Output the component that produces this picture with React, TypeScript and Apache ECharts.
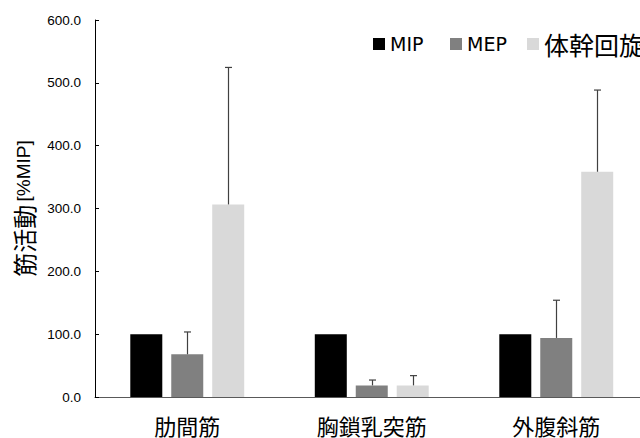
import React, { useEffect, useRef } from "react";
import * as echarts from "echarts";

// Muscles measured
const categories = ["肋間筋", "胸鎖乳突筋", "外腹斜筋"];

// Mean muscle activity [%MIP]
const mipValues = [100, 100, 100];
const mepValues = [68, 18.5, 94];
const rotValues = [306.5, 18.5, 358.5];

// Standard deviations (upper whiskers)
const mepErrors = [35.5, 8.5, 60];
const rotErrors = [218, 15.5, 130];

// Y axis ticks
const yMin = 0;
const yMax = 600;
const yStep = 100;

const seriesNames = ["MIP", "MEP", "体幹回旋"];
const seriesColors = ["#000000", "#808080", "#d9d9d9"];

const BAR_WIDTH = 32;
const BAR_GAP = 0.28;

const LATIN = "'Liberation Sans', 'Noto Sans CJK JP', sans-serif";
const CJK = "'Noto Sans CJK JP', sans-serif";

function errorSeries(name: string, values: number[], errors: number[], slot: number) {
  const offset = slot * BAR_WIDTH * (1 + BAR_GAP);
  return {
    type: "custom",
    name: name + "-sd",
    z: 5,
    data: values.map((v, i) => [i, v, errors[i]]),
    renderItem: (_params: any, api: any) => {
      const idx = api.value(0);
      const v = api.value(1);
      const e = api.value(2);
      const base = api.coord([idx, v]);
      const top = api.coord([idx, v + e]);
      const x = Math.round(base[0] + offset) + 0.5;
      const style = { stroke: "#404040", lineWidth: 1.2 };
      return {
        type: "group",
        children: [
          { type: "line", shape: { x1: x, y1: base[1], x2: x, y2: top[1] }, style },
          { type: "line", shape: { x1: x - 3.5, y1: top[1], x2: x + 3.5, y2: top[1] }, style },
        ],
      };
    },
  };
}

function legendFor(name: string, left: number, top: number, rich: boolean) {
  return {
    data: [name],
    left,
    top,
    padding: 0,
    icon: "rect",
    itemWidth: 12,
    itemHeight: 12,
    itemGap: 0,
    formatter: rich ? (n: string) => `{c|${n}}` : undefined,
    textStyle: rich
      ? { rich: { c: { fontFamily: CJK, fontSize: 25, color: "#000" } } }
      : { fontFamily: "'DejaVu Sans', sans-serif", fontSize: 19, color: "#000" },
  };
}

export default function App() {
  const ref = useRef<HTMLDivElement>(null);

  useEffect(() => {
    if (!ref.current) return;
    const chart = echarts.init(ref.current, null, { renderer: "svg" });
    const values = [mipValues, mepValues, rotValues];

    chart.setOption({
      animation: false,
      backgroundColor: "#ffffff",
      grid: {
        left: 95,
        top: 20,
        width: 553.5,
        bottom: 41,
        containLabel: false,
        outerBoundsMode: "none",
      },
      legend: [
        legendFor(seriesNames[0], 373, 34.5, false),
        legendFor(seriesNames[1], 450, 34.5, false),
        legendFor(seriesNames[2], 527, 31.5, true),
      ],
      xAxis: {
        type: "category",
        data: categories,
        axisLine: { lineStyle: { color: "#595959", width: 1.2 } },
        axisTick: { show: false },
        axisLabel: {
          margin: 17,
          fontFamily: CJK,
          fontSize: 22,
          lineHeight: 22,
          color: "#000",
        },
      },
      yAxis: {
        type: "value",
        min: yMin,
        max: yMax,
        interval: yStep,
        name: "{c|筋活動} {l|[%MIP]}",
        nameLocation: "middle",
        nameRotate: 90,
        nameGap: 60,
        nameTextStyle: {
          rich: {
            c: { fontFamily: CJK, fontSize: 24, color: "#000" },
            l: { fontFamily: LATIN, fontSize: 19, color: "#000" },
          },
        },
        splitLine: { show: false },
        axisLine: { show: true, lineStyle: { color: "#000", width: 1 } },
        axisTick: { show: true, inside: true, length: 4, lineStyle: { color: "#000" } },
        axisLabel: {
          margin: 14,
          fontFamily: LATIN,
          fontSize: 13.5,
          color: "#000",
          formatter: (v: number) => v.toFixed(1),
        },
      },
      series: [
        ...seriesNames.map((name, i) => ({
          type: "bar",
          name,
          data: values[i],
          barWidth: BAR_WIDTH,
          barGap: `${BAR_GAP * 100}%`,
          itemStyle: { color: seriesColors[i] },
        })),
        errorSeries(seriesNames[1], mepValues, mepErrors, 0),
        errorSeries(seriesNames[2], rotValues, rotErrors, 1),
      ],
    });

    return () => chart.dispose();
  }, []);

  return (
    <div
      ref={ref}
      style={{ position: "absolute", left: 0, top: 0, width: 640, height: 438 }}
    />
  );
}
